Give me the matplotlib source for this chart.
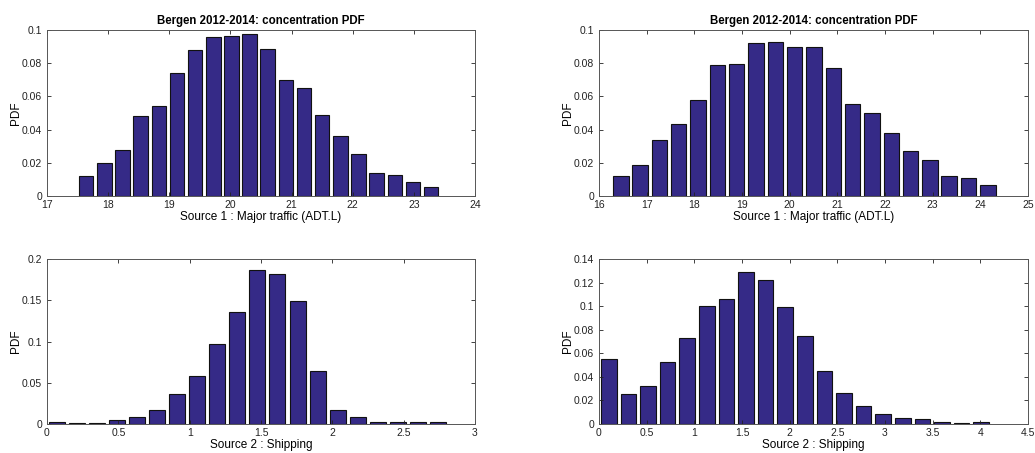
import numpy as np
import matplotlib.pyplot as plt

# Settings
OUT_FILE = 'out.png'
BAR_COLOR = '#352a87'
EDGE_COLOR = '#111111'
SPINE_COLOR = '#555555'
TITLE = 'Bergen 2012-2014: concentration PDF'

# Panel 1: Major traffic (left)
x1_start, x1_step = 17.64, 0.297
pdf1 = [0.012, 0.0199, 0.0275, 0.048, 0.054, 0.074, 0.088, 0.096, 0.0966, 0.0974,
        0.0888, 0.070, 0.0649, 0.0486, 0.0361, 0.0251, 0.0141, 0.0129, 0.0082, 0.0052]

# Panel 2: Major traffic (right)
x2_start, x2_step = 16.457, 0.4053
pdf2 = [0.012, 0.0185, 0.034, 0.0432, 0.0576, 0.0787, 0.0795, 0.0922, 0.093, 0.0898,
        0.0898, 0.0771, 0.0552, 0.050, 0.038, 0.0271, 0.0219, 0.012, 0.011, 0.0068]

# Panel 3: Shipping (left)
x3_start, x3_step = 0.07, 0.1405
pdf3 = [0.002, 0.001, 0.001, 0.005, 0.009, 0.017, 0.0368, 0.0586, 0.0966, 0.1358,
        0.1863, 0.1822, 0.1495, 0.0642, 0.017, 0.008, 0.003, 0.0024, 0.0024, 0.0024]

# Panel 4: Shipping (right)
x4_start, x4_step = 0.103, 0.2056
pdf4 = [0.0554, 0.0257, 0.0325, 0.0523, 0.073, 0.1004, 0.106, 0.129, 0.1219, 0.0996,
        0.0747, 0.0453, 0.026, 0.015, 0.0088, 0.0054, 0.0042, 0.002, 0.0008, 0.0017]

panels = [
    dict(start=x1_start, step=x1_step, pdf=pdf1, xlim=(17, 24), xticks=np.arange(17, 25, 1),
         ylim=(0, 0.1), yticks=[0, 0.02, 0.04, 0.06, 0.08, 0.1],
         xlabel='Source 1 : Major traffic (ADT.L)', title=True),
    dict(start=x2_start, step=x2_step, pdf=pdf2, xlim=(16, 25), xticks=np.arange(16, 26, 1),
         ylim=(0, 0.1), yticks=[0, 0.02, 0.04, 0.06, 0.08, 0.1],
         xlabel='Source 1 : Major traffic (ADT.L)', title=True),
    dict(start=x3_start, step=x3_step, pdf=pdf3, xlim=(0, 3), xticks=np.arange(0, 3.01, 0.5),
         ylim=(0, 0.2), yticks=[0, 0.05, 0.1, 0.15, 0.2],
         xlabel='Source 2 : Shipping', title=False),
    dict(start=x4_start, step=x4_step, pdf=pdf4, xlim=(0, 4.5), xticks=np.arange(0, 4.51, 0.5),
         ylim=(0, 0.14), yticks=[0, 0.02, 0.04, 0.06, 0.08, 0.1, 0.12, 0.14],
         xlabel='Source 2 : Shipping', title=False),
]

# axes rectangles in pixels: left, right, top, bottom
W, H = 1035, 453
rects = [(47, 475, 30, 196), (599, 1028, 30, 196),
         (47, 475, 259, 424), (599, 1028, 259, 424)]


def fmt(v):
    return '%g' % v


def main():
    plt.rcParams['font.family'] = ['Liberation Sans', 'DejaVu Sans']
    fig = plt.figure(figsize=(W / 100, H / 100), dpi=100)

    for p, (l, r, t, b) in zip(panels, rects):
        ax = fig.add_axes([l / W, 1 - b / H, (r - l) / W, (b - t) / H])
        n = len(p['pdf'])
        centers = p['start'] + p['step'] * np.arange(n)
        ax.bar(centers, p['pdf'], width=0.8 * p['step'], color=BAR_COLOR,
               edgecolor=EDGE_COLOR, linewidth=0.8)
        ax.set_xlim(p['xlim'])
        ax.set_ylim(p['ylim'])
        ax.set_xticks(p['xticks'])
        ax.set_xticklabels([fmt(v) for v in p['xticks']])
        ax.set_yticks(p['yticks'])
        ax.set_yticklabels([fmt(v) for v in p['yticks']])
        ax.tick_params(direction='in', top=True, right=True, length=3, width=0.6,
                       labelsize=7.5, colors='#222222')
        ax.tick_params(axis='x', pad=3)
        ax.tick_params(axis='y', pad=3.5)
        for spine in ax.spines.values():
            spine.set_linewidth(0.7)
            spine.set_color(SPINE_COLOR)
        ax.set_ylabel('PDF', fontsize=8.5, labelpad=0)
        ax.set_xlabel(p['xlabel'], fontsize=8.5, labelpad=0.5)
        if p['title']:
            ax.set_title(TITLE, fontsize=8.3, weight='bold', pad=4)

    fig.savefig(OUT_FILE, dpi=100)
    plt.close(fig)


if __name__ == '__main__':
    main()
